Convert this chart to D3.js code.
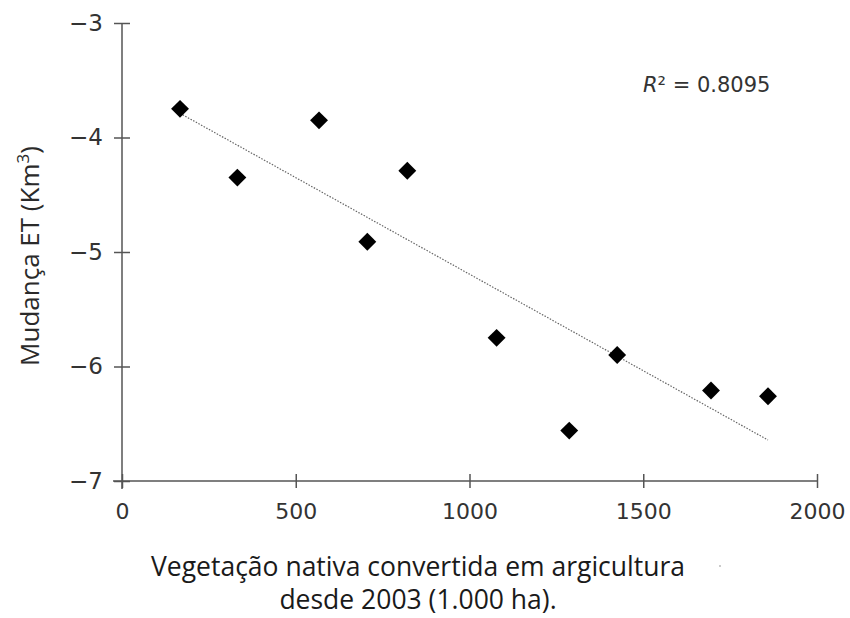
<!DOCTYPE html>
<html>
<head>
<meta charset="utf-8">
<script src="https://cdn.jsdelivr.net/npm/d3@7"></script>
<style>
  body { margin: 0; background: #fff; }
  svg { display: block; }
</style>
</head>
<body>
<div id="chart"></div>
<script>
// Chart size
const width = 850;
const height = 618;

// Data
const areaConverted = [167, 332, 567, 821, 706, 1078, 1287, 1425, 1695, 1859];
const etChange = [-3.75, -4.35, -3.85, -4.29, -4.91, -5.75, -6.56, -5.90, -6.21, -6.26];
const xTicks = [0, 500, 1000, 1500, 2000];
const yTicks = [-3, -4, -5, -6, -7];
const rSquared = "0.8095";

const points = areaConverted.map((x, i) => ({ x: x, y: etChange[i] }));

// Scales
const x = d3.scaleLinear().domain([0, 2000]).range([122, 817]);
const y = d3.scaleLinear().domain([-7, -3]).range([481, 23]);

const svg = d3.select("#chart")
              .append("svg")
              .attr("width", width)
              .attr("height", height);

const tickFont = "'DejaVu Sans', sans-serif";
const axisColor = "#555";

// Y axis
const yAxis = svg.append("g")
                 .attr("transform", `translate(${x(0)},0)`)
                 .call(d3.axisLeft(y).tickValues(yTicks).tickSize(8).tickPadding(11)
                         .tickFormat(d => String(d).replace("-", "\u2212")));
yAxis.select(".domain").remove();
yAxis.append("line")
     .attr("y1", y(-3)).attr("y2", y(-7) + 8)
     .attr("stroke", axisColor).attr("stroke-width", 1.5);
yAxis.selectAll(".tick line").attr("x1", -8).attr("x2", 8)
     .attr("stroke", axisColor).attr("stroke-width", 1.5);
yAxis.selectAll(".tick text")
     .attr("font-family", tickFont).attr("font-size", 23).attr("fill", "#333");

// X axis
const xAxis = svg.append("g")
                 .attr("transform", `translate(0,${y(-7)})`)
                 .call(d3.axisBottom(x).tickValues(xTicks).tickSize(7).tickPadding(15)
                         .tickFormat(d => String(d)));
xAxis.select(".domain").remove();
xAxis.append("line")
     .attr("x1", x(0) - 9).attr("x2", x(2000))
     .attr("stroke", axisColor).attr("stroke-width", 1.5);
xAxis.selectAll(".tick line").attr("y1", -7).attr("y2", 7)
     .attr("stroke", axisColor).attr("stroke-width", 1.5);
xAxis.selectAll(".tick text")
     .attr("font-family", tickFont).attr("font-size", 22).attr("fill", "#333");

// Linear trend line (least squares over the points)
const mx = d3.mean(points, d => d.x);
const my = d3.mean(points, d => d.y);
const slope = d3.sum(points, d => (d.x - mx) * (d.y - my)) / d3.sum(points, d => (d.x - mx) ** 2);
const x0 = d3.min(areaConverted), x1 = d3.max(areaConverted);
svg.append("line")
   .attr("x1", x(x0)).attr("y1", y(my + slope * (x0 - mx)))
   .attr("x2", x(x1)).attr("y2", y(my + slope * (x1 - mx)))
   .attr("stroke", "#666")
   .attr("stroke-width", 1.2)
   .attr("stroke-dasharray", "1.5,1.5");

// Diamond markers
svg.append("g")
   .selectAll("path")
   .data(points)
   .enter().append("path")
   .attr("d", d3.symbol().type(d3.symbolSquare).size(160))
   .attr("transform", d => `translate(${x(d.x)},${y(d.y)}) rotate(45)`)
   .attr("fill", "#000");

// R squared label
svg.append("text")
   .attr("x", 643).attr("y", 92)
   .attr("font-family", tickFont).attr("font-size", 21).attr("fill", "#333")
   .html(`<tspan font-style="italic">R</tspan>² = ${rSquared}`);

// Y axis title
svg.append("text")
   .attr("transform", "translate(39,256) rotate(-90)")
   .attr("text-anchor", "middle")
   .attr("font-family", "'Open Sans', sans-serif").attr("font-size", 26).attr("fill", "#2a2a2a")
   .html("Mudança ET (Km<tspan dy='-10' font-size='17'>3</tspan><tspan dy='10'>)</tspan>");

// X axis title
const xTitle = svg.append("text")
                  .attr("text-anchor", "middle")
                  .attr("font-family", "'Open Sans', sans-serif").attr("font-size", 26.5).attr("fill", "#1a1a1a");
xTitle.append("tspan").attr("x", 418).attr("y", 576).text("Vegetação nativa convertida em argicultura");
xTitle.append("tspan").attr("x", 418).attr("y", 609).text("desde 2003 (1.000 ha).");

// stray dot next to the title
svg.append("circle").attr("cx", 720).attr("cy", 566).attr("r", 0.8).attr("fill", "#888");
</script>
</body>
</html>
